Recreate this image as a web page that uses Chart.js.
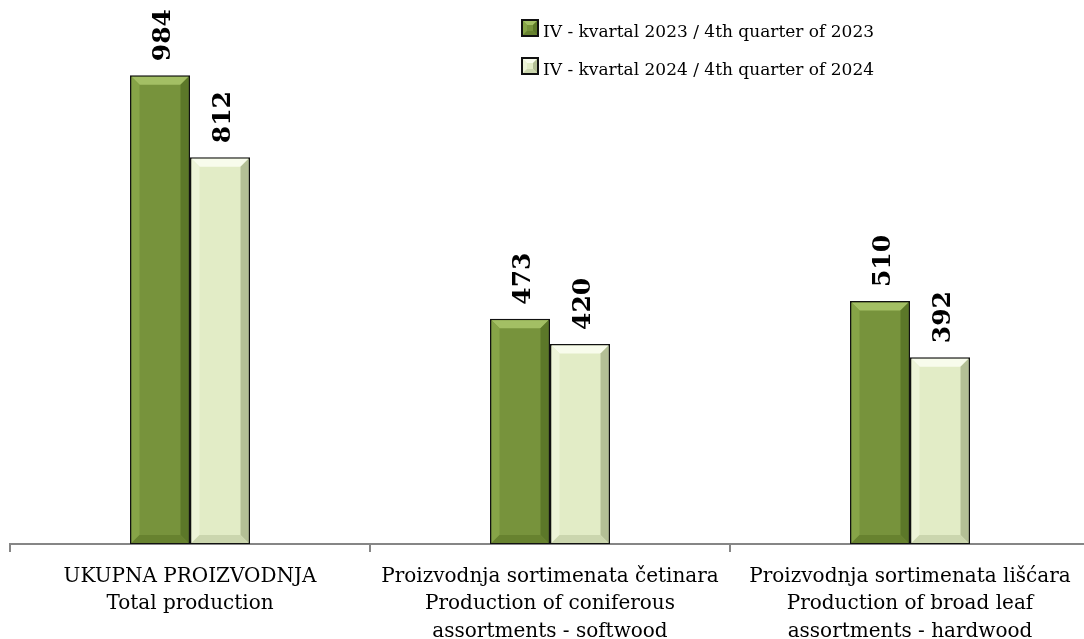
<!DOCTYPE html>
<html>
<head>
<meta charset="utf-8">
<script src="https://cdn.jsdelivr.net/npm/chart.js@4/dist/chart.umd.min.js"></script>
<style>
html,body{margin:0;padding:0;background:#fff;overflow:hidden;width:1084px;height:639px;}
#wrap{width:1100px;height:639px;}
</style>
</head>
<body>
<div id="wrap"><canvas id="c" width="1100" height="639"></canvas></div>
<script>
const categories = [
  ["UKUPNA PROIZVODNJA", "Total production"],
  ["Proizvodnja sortimenata četinara", "Production of coniferous", "assortments - softwood"],
  ["Proizvodnja sortimenata lišćara", "Production of broad leaf", "assortments - hardwood"]
];
const seriesNames = ["IV - kvartal 2023 / 4th quarter of 2023", "IV - kvartal 2024 / 4th quarter of 2024"];
const values2023 = [984, 473, 510];
const values2024 = [812, 420, 392];

const palettes = [
  {face:'#77933C', top:'#A3BF64', left:'#86A447', right:'#5C7829', bottom:'#67822F'},
  {face:'#E2ECC6', top:'#F8FCEC', left:'#EDF4D8', right:'#B3BF95', bottom:'#CBD6AE'}
];

function bevel(ctx, l, t, r, b, s, p) {
  ctx.fillStyle = p.face; ctx.fillRect(l, t, r - l, b - t);
  const poly = (pts, c) => { ctx.fillStyle = c; ctx.beginPath(); ctx.moveTo(pts[0][0], pts[0][1]); for (let i = 1; i < pts.length; i++) ctx.lineTo(pts[i][0], pts[i][1]); ctx.closePath(); ctx.fill(); };
  poly([[l,t],[r,t],[r-s,t+s],[l+s,t+s]], p.top);
  poly([[l,t],[l+s,t+s],[l+s,b-s],[l,b]], p.left);
  poly([[r,t],[r,b],[r-s,b-s],[r-s,t+s]], p.right);
  poly([[l,b],[l+s,b-s],[r-s,b-s],[r,b]], p.bottom);
}

const bevelPlugin = {
  id: 'bevel',
  afterDatasetsDraw(chart) {
    const ctx = chart.ctx;
    chart.data.datasets.forEach((ds, i) => {
      const meta = chart.getDatasetMeta(i);
      meta.data.forEach(el => {
        const w = el.width;
        const l = el.x - w / 2 + 1.5, r = el.x + w / 2 - 1.5;
        const t = el.y + 1.5, b = el.base - 1;
        ctx.save();
        bevel(ctx, l, t, r, b, 8, palettes[i]);
        ctx.restore();
      });
    });
  },
  afterDraw(chart) {
    const ctx = chart.ctx;
    // data labels
    chart.data.datasets.forEach((ds, i) => {
      const meta = chart.getDatasetMeta(i);
      meta.data.forEach((el, j) => {
        ctx.save();
        ctx.translate(el.x + 3, el.y - 14);
        ctx.rotate(-Math.PI / 2);
        ctx.font = 'bold 25px "DejaVu Serif"';
        ctx.fillStyle = '#000';
        ctx.textAlign = 'left';
        ctx.textBaseline = 'middle';
        ctx.fillText(String(ds.data[j]), 0, 0);
        ctx.restore();
      });
    });
    // legend
    const items = [{y: 19}, {y: 57}];
    chart.data.datasets.forEach((ds, i) => {
      const bx = 521, by = items[i].y;
      ctx.save();
      ctx.fillStyle = '#111';
      ctx.fillRect(bx, by, 18, 18);
      bevel(ctx, bx + 2, by + 2, bx + 16, by + 16, 4, palettes[i]);
      ctx.font = '17px "DejaVu Serif"';
      ctx.fillStyle = '#000';
      ctx.textAlign = 'left';
      ctx.textBaseline = 'alphabetic';
      ctx.fillText(ds.label, 543, by + 18);
      ctx.restore();
    });
  }
};

new Chart(document.getElementById('c'), {
  type: 'bar',
  data: {
    labels: categories,
    datasets: [
      {label: seriesNames[0], data: values2023, backgroundColor: palettes[0].face, borderColor: '#111', borderWidth: 2, borderSkipped: false},
      {label: seriesNames[1], data: values2024, backgroundColor: palettes[1].face, borderColor: '#111', borderWidth: 2, borderSkipped: false}
    ]
  },
  options: {
    responsive: false,
    animation: false,
    layout: {padding: {left: 10, right: 10, top: 20, bottom: 0}},
    datasets: {bar: {categoryPercentage: 1/3, barPercentage: 1}},
    plugins: {legend: {display: false}, tooltip: {enabled: false}},
    scales: {
      x: {
        offset: true,
        grid: {display: true, drawOnChartArea: false, offset: true, color: '#868686', lineWidth: 2, tickLength: 8},
        border: {display: true, color: '#868686', width: 2},
        ticks: {color: '#000', font: {family: '"DejaVu Serif"', size: 20, lineHeight: 1.375}, maxRotation: 0, autoSkip: false, padding: 11},
        afterFit(s) { s.height = 95; }
      },
      y: {display: false, min: 0, max: 1100}
    }
  },
  plugins: [bevelPlugin]
});
</script>
</body>
</html>
